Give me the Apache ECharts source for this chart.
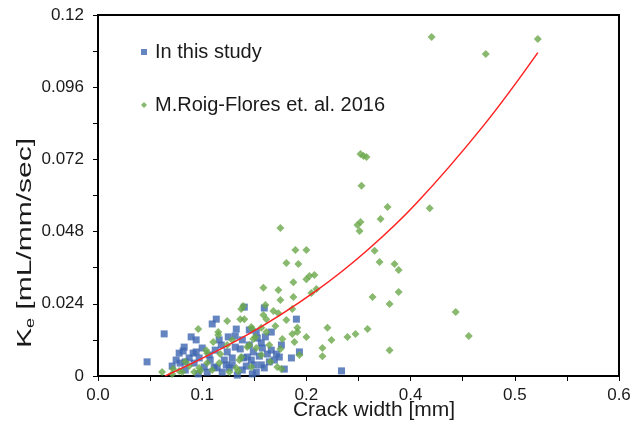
<!DOCTYPE html>
<html>
<head>
<meta charset="utf-8">
<script src="https://cdn.jsdelivr.net/npm/echarts@6/dist/echarts.min.js"></script>
<style>
html,body{margin:0;padding:0;background:#fff;}
#chart{width:641px;height:426px;}
</style>
</head>
<body>
<div id="chart"></div>
<script>
var xTickLabels = ["0.0", "0.1", "0.2", "0.4", "0.5", "0.6"];
var yTickLabels = ["0", "0.024", "0.048", "0.072", "0.096", "0.12"];

var seriesNames = ["In this study", "M.Roig-Flores et. al. 2016"];

// "In this study" (x, Ke)
var studyX = [0.0471,0.0635,0.0894,0.0942,0.0827,0.0817,0.0779,0.0750,0.0788,0.0837,0.0913,0.0942,0.1000,0.1096,0.1135,0.1250,0.1317,0.1327,0.1404,0.1317,
  0.1365,0.1433,0.1471,0.1500,0.1519,0.1337,0.1115,0.1144,0.1019,0.0923,0.1212,0.1231,0.1288,0.1288,0.1519,0.1529,0.1567,0.1596,0.1663,0.1606,
  0.1577,0.1663,0.1712,0.1740,0.1692,0.1788,0.1856,0.1904,0.1933,0.2337,0.1481,0.1567,0.1596,0.1644,0.0875,0.0971,0.1067,0.1125,0.1183,0.1240,
  0.1385,0.1452,0.1490,0.1548,0.1423,0.1385,0.1192,0.1048,0.0712,0.1163,0.1077,0.1625,0.1394,0.1260,0.0837,0.0962,0.1760,0.1452];
var studyY = [0.0047,0.0140,0.0130,0.0120,0.0096,0.0083,0.0076,0.0053,0.0043,0.0047,0.0076,0.0080,0.0093,0.0173,0.0189,0.0130,0.0133,0.0156,0.0229,0.0096,
  0.0090,0.0063,0.0053,0.0037,0.0013,0.0003,0.0030,0.0027,0.0030,0.0043,0.0053,0.0037,0.0037,0.0060,0.0146,0.0126,0.0110,0.0226,0.0146,0.0130,
  0.0093,0.0086,0.0073,0.0063,0.0053,0.0023,0.0060,0.0189,0.0080,0.0017,0.0007,0.0037,0.0027,0.0047,0.0060,0.0060,0.0070,0.0086,0.0103,0.0080,
  0.0120,0.0103,0.0080,0.0066,0.0033,0.0020,0.0013,0.0013,0.0033,0.0120,0.0053,0.0073,0.0060,0.0027,0.0020,0.0007,0.0103,0.0153];

// "M.Roig-Flores et. al. 2016" (x, Ke)
var roigX = [0.3202,0.3721,0.4221,0.3183,0.2519,0.2548,0.2577,0.2529,0.2779,0.2712,0.2490,0.2519,0.2510,0.2654,0.2702,0.2846,0.2885,0.2635,0.2885,0.2798,
  0.3433,0.2394,0.2471,0.2587,0.2798,0.3558,0.1750,0.1894,0.2000,0.1808,0.1923,0.1875,0.2000,0.2029,0.2077,0.2048,0.2096,0.1587,0.1731,0.1750,
  0.1875,0.1606,0.1375,0.1394,0.1683,0.1731,0.1365,0.1404,0.1240,0.0962,0.1154,0.1154,0.1471,0.1481,0.1587,0.1865,0.1865,0.1885,0.1913,0.1913,
  0.2000,0.2202,0.2240,0.2154,0.2154,0.1933,0.1750,0.1769,0.1615,0.1510,0.0615,0.0721,0.0837,0.1038,0.1048,0.1173,0.1163,0.0971,0.0981,0.0808,
  0.0779,0.1048,0.1327,0.1346,0.1356,0.1375,0.1433,0.1452,0.1490,0.1519,0.1471,0.0875,0.0923,0.1096,0.1240,0.1288,0.1567,0.1644,0.1702,0.1808,
  0.1260,0.0712,0.1106,0.1654,0.1721,0.1760,0.1615,0.1567];
var roigY = [0.1127,0.1070,0.1120,0.0558,0.0738,0.0731,0.0728,0.0632,0.0562,0.0522,0.0502,0.0512,0.0482,0.0416,0.0379,0.0372,0.0352,0.0263,0.0279,0.0239,
  0.0213,0.0130,0.0140,0.0156,0.0086,0.0133,0.0492,0.0419,0.0419,0.0376,0.0372,0.0312,0.0322,0.0332,0.0336,0.0276,0.0289,0.0293,0.0286,0.0253,
  0.0263,0.0236,0.0223,0.0233,0.0216,0.0209,0.0189,0.0189,0.0183,0.0156,0.0146,0.0136,0.0163,0.0156,0.0203,0.0223,0.0140,0.0113,0.0160,0.0146,
  0.0130,0.0160,0.0120,0.0093,0.0066,0.0070,0.0090,0.0123,0.0146,0.0130,0.0013,0.0023,0.0047,0.0086,0.0076,0.0073,0.0043,0.0027,0.0017,0.0013,
  0.0017,0.0043,0.0027,0.0017,0.0053,0.0063,0.0096,0.0103,0.0123,0.0093,0.0030,0.0033,0.0013,0.0020,0.0103,0.0120,0.0070,0.0103,0.0166,0.0186,
  0.0013,0.0007,0.0113,0.0047,0.0030,0.0023,0.0189,0.0160];

// red trend curve
var fitX = [0.0644,0.1452,0.2096,0.2587,0.3058,0.3692,0.4221];
var fitY = [0.0000,0.0141,0.0284,0.0419,0.0575,0.0829,0.1075];

function zip(a, b) { return a.map(function (v, i) { return [v, b[i]]; }); }

var FONT = '"Liberation Sans", Arial, sans-serif';
var chart = echarts.init(document.getElementById('chart'), null, {renderer: 'canvas'});
chart.setOption({
  animation: false,
  backgroundColor: '#ffffff',
  grid: {left: 98, right: 22, top: 15, bottom: 50, show: true, borderColor: '#000', borderWidth: 2, backgroundColor: 'transparent'},
  legend: {
    orient: 'vertical', left: 141, top: 42, padding: 0, itemWidth: 6, itemHeight: 6, itemGap: 33,
    data: seriesNames,
    textStyle: {fontFamily: FONT, fontSize: 20, color: '#1a1a1a', padding: [0, 0, 0, 3]}
  },
  xAxis: {
    type: 'value', min: 0, max: 0.5, interval: 0.1,
    axisLine: {lineStyle: {color: '#000', width: 2}},
    axisTick: {show: true, inside: false, length: 5, lineStyle: {color: '#000', width: 1}},
    minorTick: {show: true, splitNumber: 2, length: 5, lineStyle: {color: '#000', width: 1}},
    splitLine: {show: false},
    axisLabel: {
      margin: 11, fontFamily: FONT, fontSize: 17, color: '#1a1a1a',
      formatter: function (v) { var i = Math.round(v / 0.1); return xTickLabels[i] !== undefined ? xTickLabels[i] : ''; }
    }
  },
  yAxis: {
    type: 'value', min: 0, max: 0.12, interval: 0.024,
    axisLine: {lineStyle: {color: '#000', width: 2}},
    axisTick: {show: true, inside: false, length: 5, lineStyle: {color: '#000', width: 1}},
    minorTick: {show: true, splitNumber: 2, length: 5, lineStyle: {color: '#000', width: 1}},
    splitLine: {show: false},
    axisLabel: {
      margin: 14, fontFamily: FONT, fontSize: 17, color: '#1a1a1a',
      formatter: function (v) { var i = Math.round(v / 0.024); return yTickLabels[i] !== undefined ? yTickLabels[i] : ''; }
    }
  },
  graphic: [
    {
      type: 'text', x: 374, y: 410, z: 100,
      style: {text: 'Crack width [mm]', fontFamily: FONT, fontSize: 21, fill: '#1a1a1a', align: 'center', verticalAlign: 'middle'}
    },
    {
      type: 'text', x: 25, y: 243, rotation: Math.PI / 2, scaleX: 1.5, z: 100,
      style: {
        text: '{m|K}{s|e}{m| [mL/mm/sec]}', align: 'center', verticalAlign: 'middle',
        rich: {
          m: {fontFamily: FONT, fontSize: 20, lineHeight: 24, fill: '#1a1a1a', verticalAlign: 'middle'},
          s: {fontFamily: FONT, fontSize: 12, lineHeight: 12, fill: '#1a1a1a', verticalAlign: 'bottom'}
        }
      }
    }
  ],
  series: [
    {
      name: seriesNames[0], type: 'scatter', symbol: 'rect', symbolSize: 7,
      itemStyle: {color: '#3e67b0'}, data: zip(studyX, studyY), z: 2
    },
    {
      name: seriesNames[1], type: 'scatter', symbol: 'diamond', symbolSize: 8,
      itemStyle: {color: '#6aa84a'}, data: zip(roigX, roigY), z: 3
    },
    {
      name: 'fit', type: 'line', smooth: 0.4, showSymbol: false, symbol: 'none',
      lineStyle: {color: '#ff2222', width: 1.5}, data: zip(fitX, fitY), z: 4
    }
  ]
});
</script>
</body>
</html>
